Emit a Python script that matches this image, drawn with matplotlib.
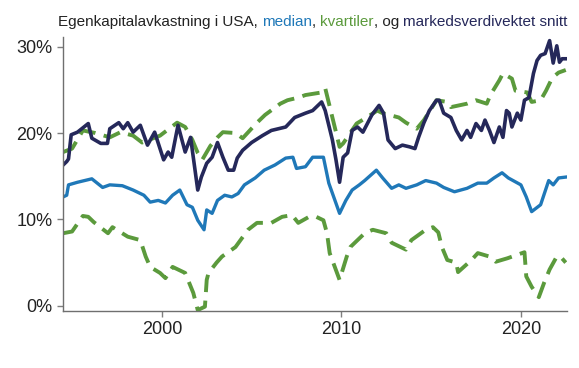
import matplotlib
matplotlib.use("Agg")
import matplotlib.pyplot as plt

plt.rcParams["font.family"] = ["Liberation Sans", "DejaVu Sans"]

# market-value weighted average (navy)
navy_years = [1994.5, 1994.7, 1994.8, 1994.95, 1995.3, 1995.9, 1996.1, 1996.6, 1996.97, 1997.1, 1997.6,
              1997.85, 1998.1, 1998.4, 1998.8, 1999.2, 1999.6, 2000.1, 2000.35, 2000.55, 2000.9, 2001.3,
              2001.6, 2002.0, 2002.2, 2002.5, 2002.8, 2003.1, 2003.4, 2003.7, 2004.0, 2004.2, 2004.5,
              2005.0, 2005.6, 2006.1, 2006.9, 2007.4, 2008.0, 2008.4, 2008.9, 2009.1, 2009.5, 2009.7,
              2009.9, 2010.1, 2010.35, 2010.6, 2010.9, 2011.2, 2011.45, 2011.7, 2012.1, 2012.35, 2012.6,
              2013.0, 2013.4, 2013.8, 2014.1, 2014.3, 2014.6, 2014.9, 2015.3, 2015.45, 2015.7, 2016.1,
              2016.4, 2016.7, 2017.0, 2017.2, 2017.5, 2017.8, 2018.0, 2018.25, 2018.5, 2018.8, 2019.0,
              2019.2, 2019.35, 2019.5, 2019.8, 2020.0, 2020.2, 2020.45, 2020.7, 2020.9, 2021.1, 2021.35,
              2021.6, 2021.8, 2022.0, 2022.15, 2022.3, 2022.55]
navy_vals = [16.3, 16.7, 17.0, 19.8, 20.1, 21.1, 19.4, 18.8, 18.8, 20.5, 21.2,
             20.5, 21.2, 20.1, 20.9, 18.6, 20.1, 16.9, 17.8, 17.2, 20.9, 17.8,
             19.5, 13.4, 14.9, 16.5, 17.2, 18.9, 17.2, 15.7, 15.7, 17.1, 18.0,
             18.9, 19.7, 20.3, 20.7, 21.8, 22.3, 22.6, 23.6, 22.6, 19.2, 16.9,
             14.3, 17.2, 17.7, 20.3, 20.7, 20.1, 21.1, 22.1, 23.2, 22.3, 19.2,
             18.2, 18.6, 18.4, 18.2, 19.5, 21.2, 22.6, 23.8, 23.8, 22.3, 21.8,
             20.3, 19.2, 20.3, 19.5, 21.1, 20.3, 21.5, 20.3, 18.9, 20.7, 19.5,
             22.6, 22.3, 20.7, 22.3, 21.5, 23.8, 24.1, 26.9, 28.4, 29.0, 29.2,
             30.7, 28.1, 30.1, 28.2, 28.6, 28.6]

# median (blue)
blue_years = [1994.5, 1994.7, 1994.8, 1995.3, 1996.1, 1996.7, 1997.1, 1997.8, 1998.4, 1999.0, 1999.35,
              1999.8, 2000.2, 2000.6, 2001.0, 2001.4, 2001.7, 2002.0, 2002.35, 2002.5, 2002.8, 2003.1,
              2003.5, 2003.9, 2004.25, 2004.6, 2005.2, 2005.7, 2006.3, 2006.9, 2007.3, 2007.5, 2008.0,
              2008.4, 2009.0, 2009.3, 2009.9, 2010.25, 2010.6, 2011.0, 2011.3, 2011.95, 2012.3, 2012.8,
              2013.2, 2013.6, 2014.2, 2014.7, 2015.3, 2015.7, 2016.3, 2017.0, 2017.6, 2018.1, 2018.5,
              2018.95, 2019.3, 2020.0, 2020.3, 2020.6, 2021.1, 2021.55, 2021.8, 2022.1, 2022.5]
blue_vals = [12.6, 12.8, 14.0, 14.3, 14.7, 13.7, 14.0, 13.9, 13.4, 12.8, 12.0,
             12.2, 11.9, 12.8, 13.4, 11.7, 11.4, 9.9, 8.8, 11.1, 10.7, 12.2,
             12.8, 12.6, 13.0, 14.0, 14.8, 15.7, 16.3, 17.1, 17.2, 15.9, 16.1,
             17.2, 17.2, 14.2, 10.7, 12.2, 13.4, 14.0, 14.5, 15.7, 14.8, 13.6,
             14.0, 13.6, 14.0, 14.5, 14.2, 13.7, 13.2, 13.6, 14.2, 14.2, 14.8,
             15.4, 14.8, 14.0, 12.6, 10.9, 11.7, 14.5, 14.0, 14.8, 14.9]

# upper quartile (green, dashed)
upper_years = [1994.5, 1995.0, 1995.6, 1996.3, 1997.1, 1997.7, 1998.4, 1998.9, 1999.9, 2000.85, 2001.3,
               2001.7, 2002.0, 2002.25, 2002.7, 2003.1, 2003.4, 2004.1, 2004.5, 2005.3, 2005.75, 2006.6,
               2007.0, 2007.6, 2008.0, 2008.9, 2009.1, 2009.5, 2009.9, 2010.1, 2010.85, 2011.4, 2012.0,
               2012.3, 2013.2, 2013.6, 2014.2, 2014.6, 2015.3, 2015.9, 2016.1, 2017.0, 2017.5, 2018.1,
               2018.3, 2018.8, 2019.0, 2019.5, 2019.7, 2020.35, 2020.6, 2021.1, 2021.4, 2021.75, 2022.1,
               2022.5]
upper_vals = [17.8, 18.2, 20.3, 20.0, 19.5, 20.1, 19.7, 18.9, 19.7, 21.2, 20.7,
              19.2, 17.7, 16.9, 18.5, 19.5, 20.1, 20.0, 19.4, 21.2, 22.1, 23.4,
              23.8, 24.1, 24.4, 24.7, 25.2, 21.8, 18.4, 18.8, 21.1, 21.8, 22.6,
              22.3, 21.8, 21.2, 20.5, 21.5, 23.8, 23.6, 23.0, 23.4, 23.8, 23.4,
              24.4, 26.1, 26.9, 26.3, 24.9, 24.7, 23.6, 23.8, 24.9, 26.4, 27.0,
              27.3]

# lower quartile (green, dashed)
lower_years = [1994.5, 1995.0, 1995.6, 1995.9, 1996.2, 1997.0, 1997.25, 1998.1, 1998.8, 1999.1, 1999.35,
               1999.9, 2000.2, 2000.6, 2001.3, 2001.75, 2002.0, 2002.4, 2002.5, 2002.6, 2003.05, 2003.35,
               2004.1, 2004.8, 2005.3, 2006.1, 2006.7, 2007.25, 2007.6, 2008.2, 2008.6, 2009.0, 2009.2,
               2009.35, 2009.9, 2010.3, 2010.5, 2011.3, 2011.75, 2012.5, 2012.8, 2013.6, 2013.9, 2014.7,
               2015.1, 2015.4, 2015.6, 2015.9, 2016.4, 2016.5, 2017.25, 2017.6, 2018.25, 2018.6, 2019.25,
               2020.2, 2020.3, 2020.6, 2021.0, 2021.3, 2021.6, 2022.0, 2022.2, 2022.5]
lower_vals = [8.4, 8.6, 10.4, 10.3, 9.7, 8.4, 9.1, 8.0, 7.6, 5.7, 4.5,
              3.8, 3.2, 4.5, 3.8, 1.5, -0.5, -0.1, 3.0, 3.8, 5.0, 5.7,
              6.8, 8.8, 9.6, 9.6, 10.3, 10.5, 9.6, 10.3, 10.3, 9.9, 8.4,
              6.1, 3.0, 5.7, 6.8, 8.4, 8.8, 8.4, 7.3, 6.5, 7.6, 8.8,
              9.1, 8.5, 6.8, 5.3, 5.0, 3.9, 5.3, 6.1, 5.7, 5.1, 5.5,
              6.2, 3.4, 2.2, 1.0, 2.7, 4.2, 5.7, 5.7, 5.0]

navy = "#25285a"
blue = "#1f78b8"
green = "#5b9a3c"

fig = plt.figure(figsize=(5.79, 3.68), dpi=100)
ax = fig.add_axes([0.109, 0.155, 0.870, 0.744])

ax.plot(lower_years, lower_vals, color=green, lw=2.8, linestyle=(0, (4.5, 2.2)))
ax.plot(upper_years, upper_vals, color=green, lw=2.8, linestyle=(0, (4.5, 2.2)))
ax.plot(blue_years, blue_vals, color=blue, lw=2.4)
ax.plot(navy_years, navy_vals, color=navy, lw=2.6)

ax.set_xlim(1994.5, 2022.56)
ax.set_ylim(-0.6, 31.1)
ax.set_xticks([2000, 2010, 2020])
ax.set_yticks([0, 10, 20, 30])
ax.set_yticklabels(["0%", "10%", "20%", "30%"])
for s in ["top", "right"]:
    ax.spines[s].set_visible(False)
for s in ["left", "bottom"]:
    ax.spines[s].set_color("#6f6f6f")
    ax.spines[s].set_linewidth(1.0)
ax.tick_params(axis="both", colors="#7f7f7f", labelcolor="#222222", labelsize=13, length=4, width=1)

# multicoloured title
t = fig.text(58 / 579, 1 - 26 / 368, "Egenkapitalavkastning i USA, ", fontsize=11, color="#222222", va="baseline")
pieces = [("median", blue), (", ", "#222222"), ("kvartiler", green), (", og ", "#222222"),
          ("markedsverdivektet snitt", navy)]
for txt, col in pieces:
    t = ax.annotate(txt, xy=(1, 0), xycoords=t, va="bottom", ha="left", fontsize=11, color=col,
                    annotation_clip=False)

fig.savefig("out.png", dpi=100)
